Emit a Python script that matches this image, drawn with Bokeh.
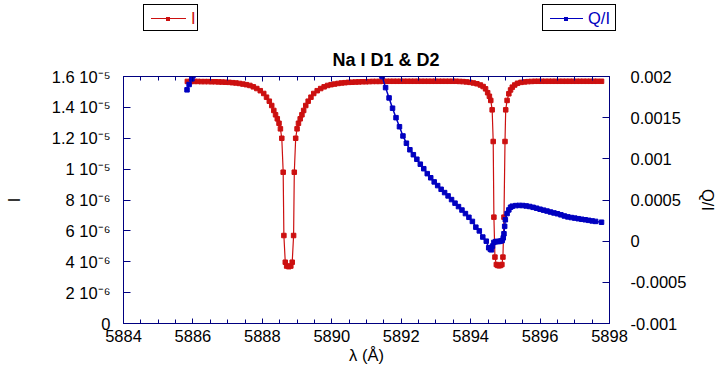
import numpy as np
from bokeh.plotting import figure
from bokeh.layouts import column
from bokeh.models import (LinearAxis, Range1d, FixedTicker, ColumnDataSource, Div)
from bokeh.embed import file_html
from bokeh.resources import INLINE

# ---------------- data ----------------
TITLE = "Na I D1 & D2"
X_LABEL = "λ (Å)"
Y_LABEL_LEFT = "I"
Y_LABEL_RIGHT = "Q/I"
SERIES_NAMES = ["I", "Q/I"]

X_TICKS = [5884, 5886, 5888, 5890, 5892, 5894, 5896, 5898]
X_MINOR = [5884.5, 5885, 5885.5, 5886.5, 5887, 5887.5, 5888.5, 5889, 5889.5,
           5890.5, 5891, 5891.5, 5892.5, 5893, 5893.5, 5894.5, 5895, 5895.5,
           5896.5, 5897, 5897.5]
I_TICKS = [0, 2e-6, 4e-6, 6e-6, 8e-6, 1e-5, 1.2e-5, 1.4e-5, 1.6e-5]
I_TICK_LABELS = ["0", "2 10⁻⁶", "4 10⁻⁶", "6 10⁻⁶", "8 10⁻⁶",
                 "1 10⁻⁵", "1.2 10⁻⁵", "1.4 10⁻⁵", "1.6 10⁻⁵"]
Q_TICKS = [-0.001, -0.0005, 0, 0.0005, 0.001, 0.0015, 0.002]
Q_TICK_LABELS = ["-0.001", "-0.0005", "0", "0.0005", "0.001", "0.0015", "0.002"]

# Stokes I (intensity)
I_WL = [
    5885.84, 5885.94, 5886.04, 5886.14, 5886.24, 5886.34, 5886.44, 5886.54, 5886.64, 5886.74,
    5886.84, 5886.94, 5887.04, 5887.14, 5887.24, 5887.34, 5887.44, 5887.54, 5887.64, 5887.74,
    5887.84, 5887.94, 5888.04, 5888.12, 5888.20, 5888.27, 5888.33, 5888.38, 5888.43, 5888.48,
    5888.52, 5888.56, 5888.60, 5888.62, 5888.66, 5888.70, 5888.76, 5888.82, 5888.86, 5888.90,
    5888.92, 5888.96, 5889.00, 5889.04, 5889.09, 5889.14, 5889.19, 5889.25, 5889.32, 5889.40,
    5889.48, 5889.58, 5889.68, 5889.78, 5889.88, 5889.98, 5890.08, 5890.18, 5890.28, 5890.38,
    5890.48, 5890.58, 5890.68, 5890.78, 5890.88, 5890.98, 5891.08, 5891.18, 5891.28, 5891.38,
    5891.48, 5891.58, 5891.68, 5891.78, 5891.88, 5891.98, 5892.08, 5892.18, 5892.28, 5892.38,
    5892.48, 5892.58, 5892.68, 5892.78, 5892.88, 5892.98, 5893.08, 5893.18, 5893.28, 5893.38,
    5893.48, 5893.58, 5893.68, 5893.78, 5893.88, 5893.98, 5894.08, 5894.18, 5894.28, 5894.36,
    5894.43, 5894.49, 5894.54, 5894.58, 5894.62, 5894.65, 5894.67, 5894.70, 5894.74, 5894.78,
    5894.82, 5894.86, 5894.90, 5894.93, 5894.96, 5894.99, 5895.01, 5895.05, 5895.10, 5895.15,
    5895.20, 5895.27, 5895.35, 5895.45, 5895.55, 5895.65, 5895.75, 5895.85, 5895.95, 5896.05,
    5896.15, 5896.25, 5896.35, 5896.45, 5896.55, 5896.65, 5896.75, 5896.85, 5896.95, 5897.05,
    5897.15, 5897.25, 5897.35, 5897.45, 5897.55, 5897.65, 5897.77]
I_VAL = [
    15.68e-6, 15.68e-6, 15.68e-6, 15.68e-6, 15.67e-6, 15.67e-6, 15.67e-6, 15.66e-6, 15.66e-6, 15.65e-6,
    15.64e-6, 15.63e-6, 15.62e-6, 15.60e-6, 15.58e-6, 15.55e-6, 15.51e-6, 15.47e-6, 15.42e-6, 15.33e-6,
    15.22e-6, 15.08e-6, 14.90e-6, 14.66e-6, 14.40e-6, 14.12e-6, 13.80e-6, 13.52e-6, 13.26e-6, 12.97e-6,
    12.61e-6, 12.00e-6, 9.80e-6, 5.70e-6, 3.97e-6, 3.72e-6, 3.68e-6, 3.72e-6, 3.97e-6, 5.70e-6,
    9.80e-6, 12.00e-6, 12.61e-6, 12.97e-6, 13.26e-6, 13.52e-6, 13.80e-6, 14.12e-6, 14.40e-6, 14.66e-6,
    14.90e-6, 15.08e-6, 15.22e-6, 15.33e-6, 15.42e-6, 15.47e-6, 15.51e-6, 15.55e-6, 15.58e-6, 15.60e-6,
    15.62e-6, 15.63e-6, 15.64e-6, 15.65e-6, 15.66e-6, 15.66e-6, 15.67e-6, 15.68e-6, 15.68e-6, 15.68e-6,
    15.69e-6, 15.69e-6, 15.69e-6, 15.69e-6, 15.69e-6, 15.69e-6, 15.69e-6, 15.69e-6, 15.69e-6, 15.69e-6,
    15.69e-6, 15.69e-6, 15.69e-6, 15.69e-6, 15.69e-6, 15.69e-6, 15.69e-6, 15.69e-6, 15.69e-6, 15.69e-6,
    15.69e-6, 15.69e-6, 15.68e-6, 15.67e-6, 15.65e-6, 15.62e-6, 15.58e-6, 15.53e-6, 15.45e-6, 15.35e-6,
    15.20e-6, 14.95e-6, 14.72e-6, 14.45e-6, 13.84e-6, 11.79e-6, 6.89e-6, 4.30e-6, 3.82e-6, 3.76e-6,
    3.74e-6, 3.76e-6, 3.82e-6, 4.30e-6, 6.89e-6, 11.79e-6, 13.84e-6, 14.45e-6, 14.88e-6, 15.13e-6,
    15.31e-6, 15.45e-6, 15.56e-6, 15.62e-6, 15.65e-6, 15.67e-6, 15.68e-6, 15.69e-6, 15.69e-6, 15.69e-6,
    15.69e-6, 15.69e-6, 15.69e-6, 15.69e-6, 15.69e-6, 15.69e-6, 15.69e-6, 15.69e-6, 15.69e-6, 15.69e-6,
    15.69e-6, 15.69e-6, 15.69e-6, 15.69e-6, 15.69e-6, 15.69e-6, 15.69e-6]

# Q/I (linear polarisation); NaN marks where the curve leaves the top of the plot
Q_WL = [
    5885.83, 5885.89, 5885.97, 5886.00, np.nan,
    5891.43, 5891.45, 5891.55, 5891.65, 5891.75, 5891.85, 5891.95, 5892.05, 5892.15, 5892.25,
    5892.35, 5892.45, 5892.55, 5892.65, 5892.75, 5892.85, 5892.95, 5893.05, 5893.15, 5893.25,
    5893.35, 5893.45, 5893.55, 5893.65, 5893.75, 5893.85, 5893.95, 5894.05, 5894.15, 5894.25,
    5894.35, 5894.45, 5894.52, 5894.57, 5894.60, 5894.63, 5894.67, 5894.72, 5894.77, 5894.82,
    5894.87, 5894.91, 5894.94, 5894.96, 5894.98, 5895.00, 5895.05, 5895.10, 5895.15, 5895.20,
    5895.30, 5895.40, 5895.50, 5895.60, 5895.70, 5895.80, 5895.90, 5896.00, 5896.10, 5896.20,
    5896.30, 5896.40, 5896.50, 5896.60, 5896.70, 5896.80, 5896.90, 5897.00, 5897.10, 5897.20,
    5897.30, 5897.40, 5897.50, 5897.60, 5897.77]
Q_VAL = [
    0.001838, 0.001903, 0.001972, 0.002010, np.nan,
    0.002020, 0.002000, 0.001865, 0.001740, 0.001615, 0.001500, 0.001390, 0.001278, 0.001190, 0.001110,
    0.001050, 0.000995, 0.000935, 0.000880, 0.000820, 0.000770, 0.000720, 0.000675, 0.000630, 0.000590,
    0.000550, 0.000505, 0.000462, 0.000420, 0.000378, 0.000335, 0.000290, 0.000240, 0.000170, 0.000125,
    0.000050, 0.000000, -0.000080, -0.000100, -0.000105, -0.000060, -0.000015, -0.000005, -0.000004, -0.000004,
    0.000002, 0.000008, 0.000040, 0.000090, 0.000180, 0.000260, 0.000335, 0.000380, 0.000412, 0.000425,
    0.000432, 0.000434, 0.000433, 0.000428, 0.000421, 0.000411, 0.000400, 0.000388, 0.000377, 0.000366,
    0.000354, 0.000343, 0.000333, 0.000320, 0.000306, 0.000295, 0.000287, 0.000280, 0.000273, 0.000266,
    0.000260, 0.000253, 0.000246, 0.000240, 0.000230]

# ---------------- style ----------------
FONT = "Liberation Sans"
FS = "16.5px"
RED = "#cc1010"
BLUE = "#0000c0"
NAVY = "#000080"
W = 720
LEG_H = 36
MAIN_H = 372 - LEG_H

p = figure(width=W, height=MAIN_H, output_backend="svg", toolbar_location=None,
           x_range=Range1d(5884, 5898), y_range=Range1d(0, 1.6e-5),
           min_border_left=123, min_border_right=W - 611, min_border_top=76 - LEG_H,
           min_border_bottom=MAIN_H - (323 - LEG_H),
           x_axis_label=X_LABEL, y_axis_label=Y_LABEL_LEFT)
p.extra_y_ranges = {"q": Range1d(-0.001, 0.002)}
p.xgrid.visible = False
p.ygrid.visible = False
p.outline_line_color = NAVY
p.background_fill_color = "white"
p.border_fill_color = "white"

p.title.text = TITLE
p.title.align = "left"
p.title.offset = 209
p.title.text_font = FONT
p.title.text_font_size = "18px"
p.title.text_font_style = "bold"
p.title.text_color = "black"
p.title.standoff = 14


def style_axis(ax):
    ax.axis_line_color = NAVY
    ax.major_tick_line_color = NAVY
    ax.minor_tick_line_color = NAVY
    ax.major_label_text_font = FONT
    ax.major_label_text_font_size = FS
    ax.major_label_text_color = "black"
    ax.axis_label_text_font = FONT
    ax.axis_label_text_font_size = FS
    ax.axis_label_text_font_style = "normal"
    ax.axis_label_text_color = "black"
    ax.major_tick_out = 0
    ax.minor_tick_out = 0


xt = FixedTicker(ticks=X_TICKS, minor_ticks=X_MINOR)
xa = p.xaxis[0]
style_axis(xa)
xa.ticker = xt
xa.major_tick_in = 5
xa.minor_tick_in = 4
xa.major_label_standoff = 6
xa.axis_label_standoff = 1

top = LinearAxis(ticker=xt)
style_axis(top)
top.major_tick_in = 5
top.minor_tick_in = 4
top.major_label_overrides = {t: "" for t in X_TICKS}
top.major_label_text_font_size = "1px"
top.major_label_standoff = 0
p.add_layout(top, "above")

ya = p.yaxis[0]
style_axis(ya)
ya.ticker = FixedTicker(ticks=I_TICKS, minor_ticks=[])
ya.major_label_overrides = dict(zip(I_TICKS, I_TICK_LABELS))
ya.major_tick_in = 7
ya.minor_tick_in = 0
ya.major_label_standoff = 13
ya.axis_label_standoff = 26

ra = LinearAxis(y_range_name="q", axis_label=Y_LABEL_RIGHT)
style_axis(ra)
ra.ticker = FixedTicker(ticks=Q_TICKS, minor_ticks=[])
ra.major_label_overrides = dict(zip(Q_TICKS, Q_TICK_LABELS))
ra.major_tick_in = 7
ra.minor_tick_in = 0
ra.major_label_standoff = 21
ra.axis_label_standoff = 10
p.add_layout(ra, "right")

src_i = ColumnDataSource(dict(x=np.array(I_WL), y=np.array(I_VAL)))
src_q = ColumnDataSource(dict(x=np.array(Q_WL, dtype=float), y=np.array(Q_VAL, dtype=float)))

p.line("x", "y", source=src_i, line_color=RED, line_width=1.2)
p.scatter("x", "y", source=src_i, marker="square", size=4.5,
          fill_color=RED, line_color=RED)
p.line("x", "y", source=src_q, y_range_name="q", line_color=BLUE, line_width=1.5)
p.scatter("x", "y", source=src_q, y_range_name="q", marker="square", size=4.5,
          fill_color=BLUE, line_color=BLUE)


# ---- legend strip above the plot: two separate boxed keys ----
def key_box(left, width, glyph_w, label, color):
    return (
        f'<div style="position:absolute;left:{left}px;top:4px;width:{width}px;height:27px;'
        f'border:1px solid black;background:white;">'
        f'<div style="position:absolute;left:7px;top:13px;width:{glyph_w}px;height:0;'
        f'border-top:1px solid {color};"></div>'
        f'<div style="position:absolute;left:{7 + glyph_w // 2 - 2}px;top:12px;width:4px;height:4px;'
        f'background:{color};"></div>'
        f'<div style="position:absolute;left:{glyph_w + 12}px;top:3px;line-height:20px;'
        f"font-family:'{FONT}';font-size:{FS};color:{color};white-space:nowrap;\">{label}</div>"
        f'</div>'
    )


legend_html = (
    f'<div style="position:relative;width:{W}px;height:{LEG_H}px;background:white;">'
    + key_box(143, 55, 35, SERIES_NAMES[0], RED)
    + key_box(542, 74, 33, SERIES_NAMES[1], BLUE)
    + '</div>'
)
legend_div = Div(text=legend_html, width=W, height=LEG_H, margin=0)

layout = column(legend_div, p, spacing=0)
open("out.html", "w").write(file_html(layout, INLINE))
